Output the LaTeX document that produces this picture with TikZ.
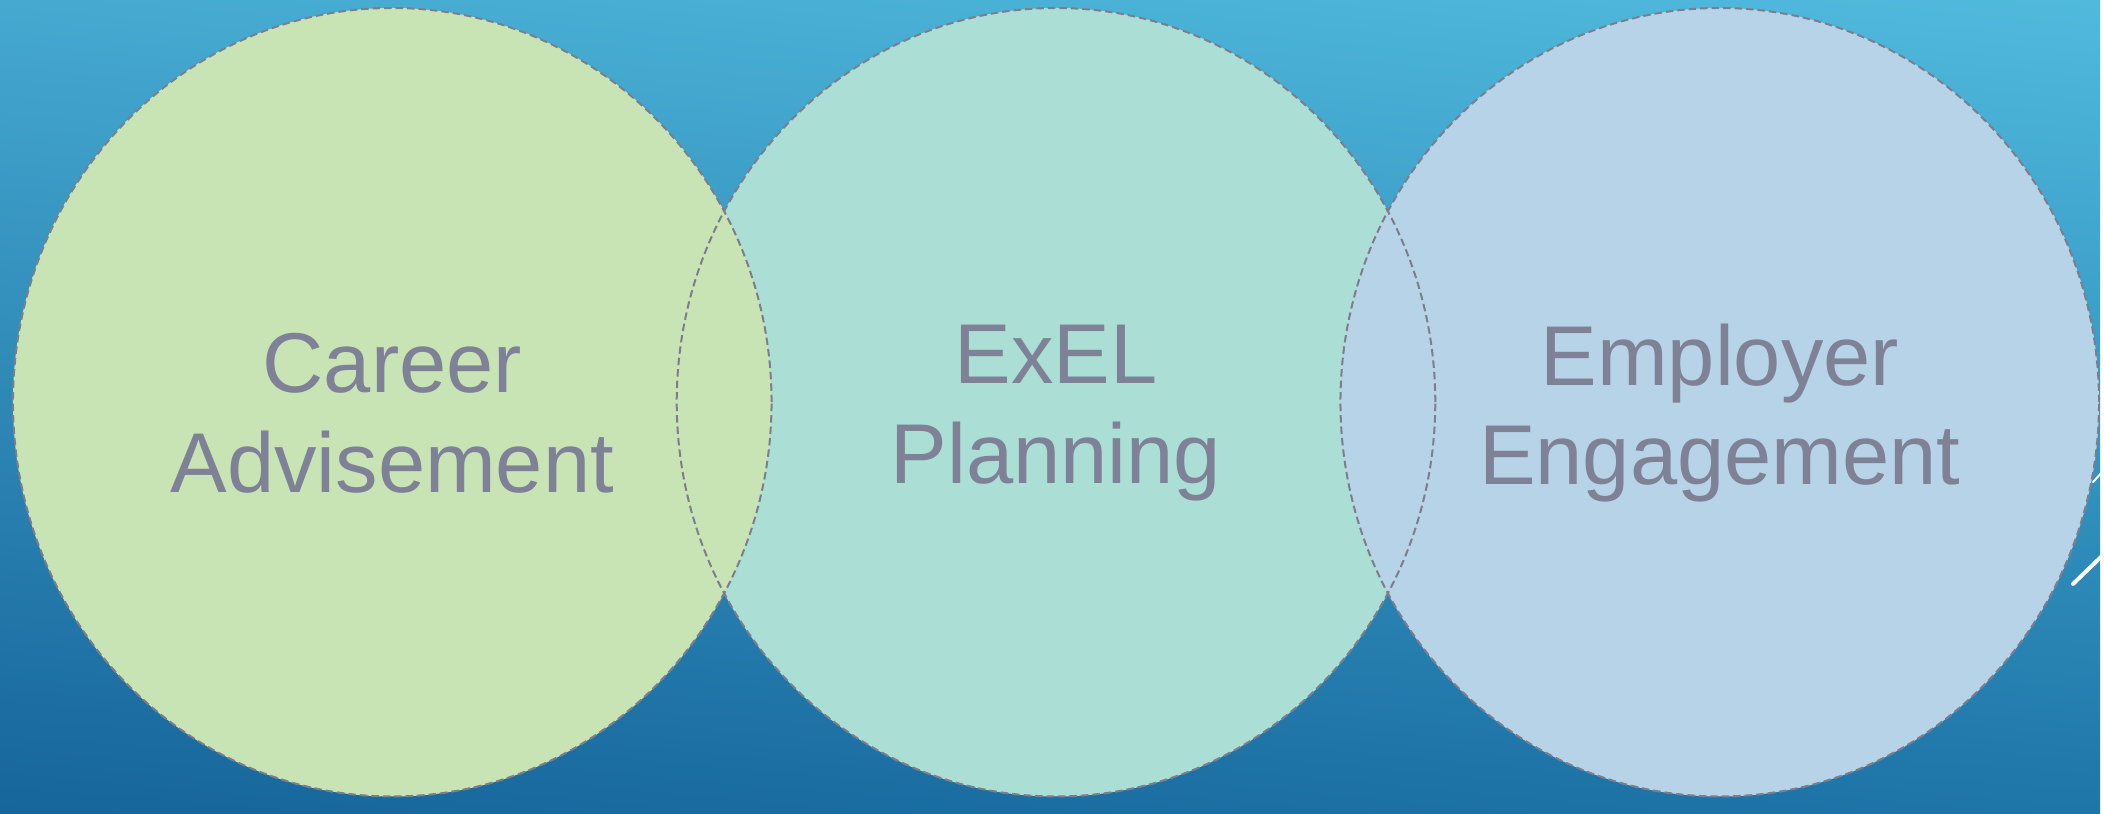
\documentclass[tikz,border=0pt]{standalone}
\usepackage{fontspec}
\setmainfont{Liberation Sans}
\usepackage{tikz}
\usetikzlibrary{shadings}
\definecolor{fondhg}{RGB}{69,169,208}
\definecolor{fondhd}{RGB}{80,186,221}
\definecolor{fondbg}{RGB}{22,101,155}
\definecolor{fondbd}{RGB}{30,117,168}
\definecolor{vertpale}{RGB}{201,228,180}
\definecolor{eaupale}{RGB}{171,222,212}
\definecolor{bleupale}{RGB}{182,211,232}
\definecolor{texte}{RGB}{127,129,150}
\definecolor{trait}{RGB}{125,125,140}

\begin{document}
\begin{tikzpicture}[x=0.1mm,y=0.1mm,
  titre/.style={text=texte,align=center,font=\fontsize{24.2}{28.4}\selectfont},
  contour/.style={draw=trait,dash pattern=on 0.75mm off 0.4mm,line width=0.2mm}]
\shade[upper left=fondhg,upper right=fondhd,lower left=fondbg,lower right=fondbd] (0,0) rectangle (2104,815);
\coordinate (t1) at (2077,230);
\coordinate (t2) at (2106,258);
\coordinate (t3) at (2097,332);
\coordinate (t4) at (2106,342);
\draw[white,line width=0.4mm,line cap=round] (t1) -- (t2);
\draw[white,line width=0.2mm,line cap=round] (t3) -- (t4);
\coordinate (c1) at (393,412);
\coordinate (c2) at (1058,412);
\coordinate (c3) at (1723,412);
\fill[eaupale] (c2) ellipse [x radius=380,y radius=395];
\fill[vertpale] (c1) ellipse [x radius=380,y radius=395];
\fill[bleupale] (c3) ellipse [x radius=380,y radius=395];
\node[titre] (career) at (393,401) {Career\\Advisement};
\node[titre] (exel) at (1058,401) {ExEL\\Planning};
\node[titre] (employer) at (1723,401) {Employer\\Engagement};
\foreach \c in {c1,c2,c3}
  \draw[contour] (\c) ellipse [x radius=380,y radius=395];
\end{tikzpicture}
\end{document}
